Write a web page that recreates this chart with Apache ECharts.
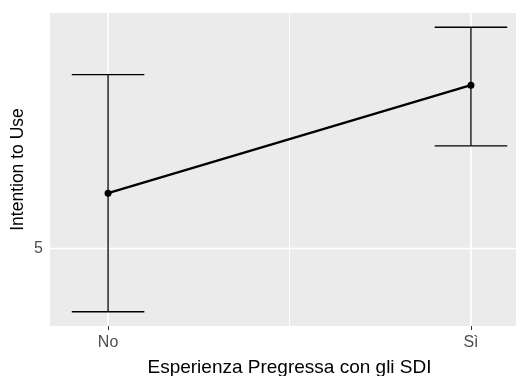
<!DOCTYPE html>
<html>
<head>
<meta charset="utf-8">
<script src="https://cdn.jsdelivr.net/npm/echarts@6/dist/echarts.min.js"></script>
<style>
html,body{margin:0;padding:0;background:#fff;}
#c{width:516px;height:376px;}
</style>
</head>
<body>
<div id="c"></div>
<script>
// ---- data ----
const categories = ['No', 'Sì'];
const xPositions = [0, 1];
const means = [5.105, 5.31];
const lower = [4.88, 5.195];
const upper = [5.33, 5.42];
const yTicks = [5];
const xMajorGrid = [0, 1];
const xMinorGrid = [0.5];
const yMajorGrid = [5];
const capHalf = 0.1;

const lo = Math.min(...lower), hi = Math.max(...upper);
const yPad = 0.05 * (hi - lo);
const xLo = Math.min(...xPositions) - capHalf, xHi = Math.max(...xPositions) + capHalf;
const xPad = 0.05 * (xHi - xLo);
const yMin = lo - yPad, yMax = hi + yPad, xMin = xLo - xPad, xMax = xHi + xPad;

const font = "'Liberation Sans', Arial, sans-serif";
const chart = echarts.init(document.getElementById('c'), null, {renderer: 'canvas'});

const errData = xPositions.map((x, i) => [x, lower[i], upper[i]]);
const meanData = xPositions.map((x, i) => [x, means[i]]);
const gridData = [
  ...xMinorGrid.map(v => ['x', v, 0.9]),
  ...xMajorGrid.map(v => ['x', v, 1.6]),
  ...yMajorGrid.map(v => ['y', v, 1.6])
];

chart.setOption({
  animation: false,
  grid: {left: 50, right: -13, top: 13, bottom: 50, show: true, backgroundColor: '#EBEBEB', borderWidth: 0, containLabel: false, outerBoundsMode: 'none'},
  xAxis: {
    type: 'value', min: xMin, max: xMax,
    name: 'Esperienza Pregressa con gli SDI', nameLocation: 'middle', nameGap: 32,
    nameTextStyle: {color: '#000', fontSize: 19, fontFamily: font, align: 'center'},
    axisLine: {show: false},
    splitLine: {show: false},
    axisTick: {show: true, customValues: xPositions, length: 4, lineStyle: {color: '#333', width: 1}},
    axisLabel: {customValues: xPositions, formatter: v => categories[xPositions.indexOf(v)] ?? '', color: '#4D4D4D', fontSize: 16, fontFamily: font, margin: 9}
  },
  yAxis: {
    type: 'value', min: yMin, max: yMax,
    name: 'Intention to Use', nameLocation: 'middle', nameGap: 23, nameRotate: 90, nameMoveOverlap: false,
    nameTextStyle: {color: '#000', fontSize: 17.5, fontFamily: font},
    axisLine: {show: false},
    splitLine: {show: false},
    axisTick: {show: true, customValues: yTicks, length: 4, lineStyle: {color: '#333', width: 1}},
    axisLabel: {customValues: yTicks, formatter: v => String(v), color: '#4D4D4D', fontSize: 16, fontFamily: font, margin: 7}
  },
  series: [
    {
      type: 'custom', z: 1, silent: true, data: gridData, clip: true,
      encode: {x: 1},
      renderItem(params, api) {
        const d = gridData[params.dataIndex];
        const v = d[1];
        let shape;
        if (d[0] === 'x') {
          const a = api.coord([v, yMin]), b = api.coord([v, yMax]);
          shape = {x1: a[0], y1: a[1], x2: b[0], y2: b[1]};
        } else {
          const a = api.coord([xMin, v]), b = api.coord([xMax, v]);
          shape = {x1: a[0], y1: a[1], x2: b[0], y2: b[1]};
        }
        return {type: 'line', shape, style: {stroke: '#fff', lineWidth: d[2]}};
      }
    },
    {
      type: 'custom', z: 3, silent: true, data: errData,
      renderItem(params, api) {
        const x = api.value(0), l = api.value(1), h = api.value(2);
        const pL = api.coord([x, l]), pH = api.coord([x, h]);
        const xl = api.coord([x - capHalf, l])[0], xr = api.coord([x + capHalf, l])[0];
        const st = {stroke: '#000', lineWidth: 1.3};
        return {type: 'group', children: [
          {type: 'line', shape: {x1: pL[0], y1: pL[1], x2: pH[0], y2: pH[1]}, style: st},
          {type: 'line', shape: {x1: xl, y1: pL[1], x2: xr, y2: pL[1]}, style: st},
          {type: 'line', shape: {x1: xl, y1: pH[1], x2: xr, y2: pH[1]}, style: st}
        ]};
      }
    },
    {
      type: 'line', z: 4, data: meanData, symbol: 'circle', symbolSize: 7,
      itemStyle: {color: '#000'}, lineStyle: {color: '#000', width: 2.3}, silent: true
    }
  ]
});
</script>
</body>
</html>
